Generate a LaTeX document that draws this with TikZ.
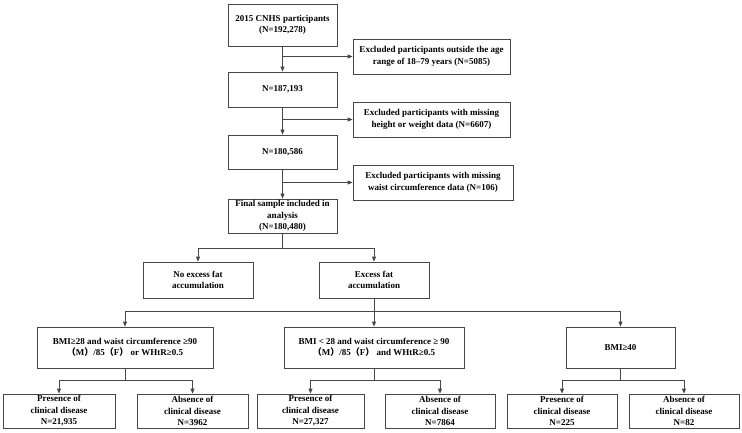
\documentclass[tikz,border=0pt]{standalone}
\usepackage{fontspec}
\setmainfont{Liberation Serif}
\newfontfamily\cjk{Noto Sans CJK SC}
\usetikzlibrary{arrows.meta}

\definecolor{linegray}{HTML}{474747}
\newcommand{\fwp}[1]{{\cjk （}#1{\cjk ）}}

\tikzset{
    box/.style={draw=linegray, line width=0.8pt, align=center, inner sep=1pt,
        font=\bfseries\fontsize{9}{11.5}\selectfont},
    arr/.style={draw=linegray, line width=0.8pt, -{Triangle[length=5pt,width=4pt]}},
    ln/.style={draw=linegray, line width=0.8pt}
}

\begin{document}
\begin{tikzpicture}[x=1pt, y=-1pt]

    \useasboundingbox (0,0) rectangle (742,433);

    % Main column
    \node[box, minimum width=109pt, minimum height=42pt] (p0) at (282.5,25) {2015 CNHS participants\\(N=192,278)};
    \node[box, minimum width=109pt, minimum height=35pt] (p1) at (282.5,89.5) {N=187,193};
    \node[box, minimum width=109pt, minimum height=34pt] (p2) at (282.5,152) {N=180,586};
    \node[box, minimum width=109pt, minimum height=34pt] (p3) at (282.5,216) {Final sample included in\\analysis\\(N=180,480)};

    % Exclusions
    \node[box, minimum width=157pt, minimum height=35pt] (ex1) at (431.5,56.5) {Excluded participants outside the age\\range of 18--79 years (N=5085)};
    \node[box, minimum width=157pt, minimum height=35pt] (ex2) at (431.5,119.5) {Excluded participants with missing\\height or weight data (N=6607)};
    \node[box, minimum width=160pt, minimum height=35pt] (ex3) at (433,182.5) {Excluded participants with missing\\waist circumference data (N=106)};

    % Fat accumulation
    \node[box, minimum width=110pt, minimum height=36pt] (n0) at (198,280) {No excess fat\\accumulation};
    \node[box, minimum width=110pt, minimum height=36pt] (n1) at (374,280) {Excess fat\\accumulation};

    % Criteria
    \node[box, minimum width=176pt, minimum height=41pt] (c1) at (125,347.5) {BMI≥28 and waist circumference ≥90\\\fwp{M}/85\fwp{F} or WHtR≥0.5};
    \node[box, minimum width=180pt, minimum height=41pt] (c2) at (374,347.5) {BMI < 28 and waist circumference ≥ 90\\\fwp{M}/85\fwp{F} and WHtR≥0.5};
    \node[box, minimum width=109pt, minimum height=41pt] (c3) at (620.5,347.5) {BMI≥40};

    % Clinical disease
    \node[box, minimum width=112pt, minimum height=34pt] (d1) at (59,411) {Presence of\\clinical disease\\N=21,935};
    \node[box, minimum width=111pt, minimum height=34pt] (d2) at (192.5,411) {Absence of\\clinical disease\\N=3962};
    \node[box, minimum width=107pt, minimum height=34pt] (d3) at (310.5,411) {Presence of\\clinical disease\\N=27,327};
    \node[box, minimum width=110pt, minimum height=34pt] (d4) at (440,411) {Absence of\\clinical disease\\N=7864};
    \node[box, minimum width=110pt, minimum height=34pt] (d5) at (562,411) {Presence of\\clinical disease\\N=225};
    \node[box, minimum width=110pt, minimum height=34pt] (d6) at (684,411) {Absence of\\clinical disease\\N=82};

    % Main column arrows
    \draw[arr] (p0) -- (p1);
    \draw[arr] (p1) -- (p2);
    \draw[arr] (p2) -- (p3);
    \draw[arr] (p0 |- ex1.west) -- (ex1.west);
    \draw[arr] (p1 |- ex2.west) -- (ex2.west);
    \draw[arr] (p2 |- ex3.west) -- (ex3.west);

    % Split into excess / no excess
    \coordinate (s1) at (282.5,248);
    \draw[ln] (p3.south) -- (s1);
    \draw[arr] (s1) -| (n0.north);
    \draw[arr] (s1) -| (n1.north);

    % Split into criteria
    \coordinate (s2) at (374,311);
    \draw[ln] (n1.south) -- (s2);
    \draw[arr] (s2) -| (c1.north);
    \draw[arr] (s2) -- (c2.north);
    \draw[arr] (s2) -| (c3.north);

    % Split into clinical disease
    \coordinate (s3) at (125,380);
    \coordinate (s4) at (374,380);
    \coordinate (s5) at (620.5,380);
    \draw[ln] (c1.south) -- (s3);
    \draw[ln] (c2.south) -- (s4);
    \draw[ln] (c3.south) -- (s5);
    \draw[arr] (s3) -| (d1.north);
    \draw[arr] (s3) -| (d2.north);
    \draw[arr] (s4) -| (d3.north);
    \draw[arr] (s4) -| (d4.north);
    \draw[arr] (s5) -| (d5.north);
    \draw[arr] (s5) -| (d6.north);

\end{tikzpicture}
\end{document}
